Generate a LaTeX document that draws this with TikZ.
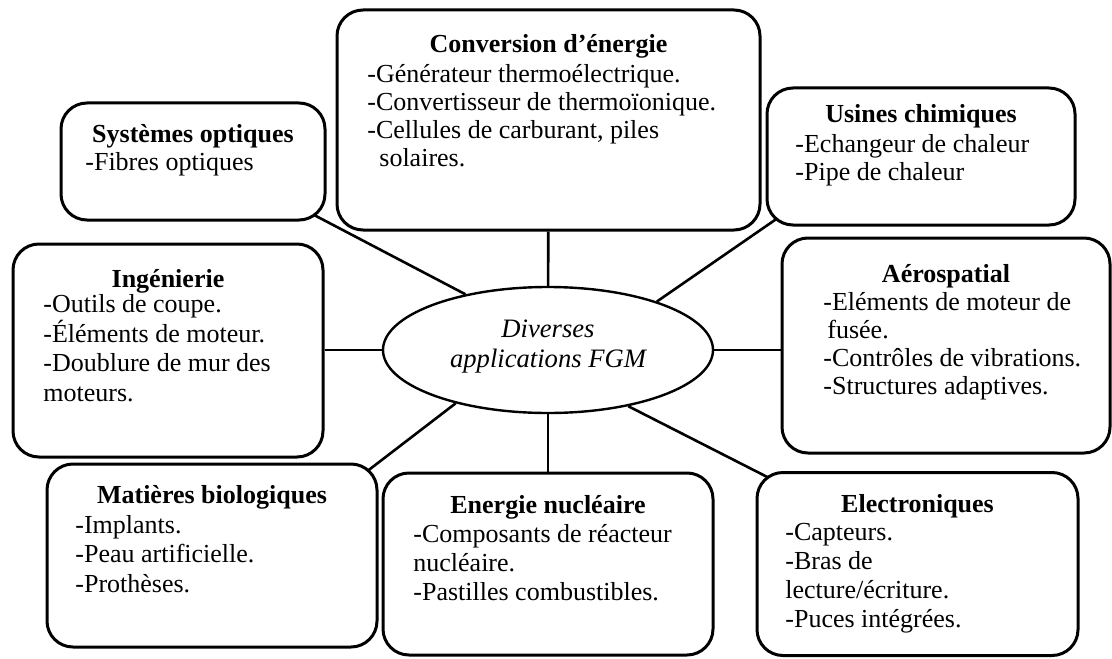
\documentclass[tikz,border=0pt]{standalone}
\usepackage{fontspec}
\setmainfont{Liberation Serif}
\usetikzlibrary{shapes.geometric,backgrounds}

\tikzset{
  appbox/.style={draw, fill=white, line width=1.5pt, rounded corners=13pt, inner sep=0pt},
  apptitle/.style={anchor=base, inner sep=0pt, font=\fontsize{13pt}{14pt}\selectfont\bfseries},
  applist/.style={anchor=base west, inner sep=0pt, align=left, font=\fontsize{13pt}{14pt}\selectfont},
  link/.style={line width=1.3pt},
  cornerlink/.style={link, shorten >=-8pt}
}

\begin{document}
\begin{tikzpicture}[x=0.5pt, y=-0.5pt]
	\useasboundingbox (0,0) rectangle (1112,658);
	
	% Centre (base = last line)
	\node[ellipse, draw, fill=white, line width=1.2pt, minimum width=165pt, minimum height=63pt, inner sep=0pt] (center) at (548,350) {};
	\node[anchor=base, inner sep=0pt, align=center, font=\fontsize{13.3pt}{15pt}\selectfont\itshape] (centertext) at (548,367) {Diverses\\applications FGM};
	
	% Conversion d'energie
	\node[appbox, minimum width=211.5pt, minimum height=110pt] (conv) at (548.5,120) {};
	\node[apptitle] (convtitle) at (548.5,53) {Conversion d’énergie};
	\node[applist] (convlist) at (367,166) {-Générateur thermoélectrique.\\-Convertisseur de thermoïonique.\\-Cellules de carburant, piles\\\hspace*{6pt}solaires.};
	
	% Systemes optiques
	\node[appbox, minimum width=132pt, minimum height=58.5pt] (optics) at (193,161.5) {};
	\node[apptitle] (opticstitle) at (193,142) {Systèmes optiques};
	\node[applist] (opticslist) at (85,170) {-Fibres optiques};
	
	% Usines chimiques
	\node[appbox, minimum width=154pt, minimum height=68.5pt] (plant) at (921,156.5) {};
	\node[apptitle] (planttitle) at (921,122) {Usines chimiques};
	\node[applist] (plantlist) at (795,180) {-Echangeur de chaleur\\-Pipe de chaleur};
	
	% Ingenierie
	\node[appbox, minimum width=155pt, minimum height=106.5pt] (eng) at (168,350.5) {};
	\node[apptitle] (engtitle) at (168,287) {Ingénierie};
	\node[applist, font=\fontsize{13pt}{14.7pt}\selectfont] (englist) at (43,401) {-Outils de coupe.\\-Éléments de moteur.\\-Doublure de mur des\\moteurs.};
	
	% Aerospatial
	\node[appbox, minimum width=164pt, minimum height=107.5pt] (aero) at (946,345.5) {};
	\node[apptitle] (aerotitle) at (946,282) {Aérospatial};
	\node[applist] (aerolist) at (823,394) {-Eléments de moteur de\\\hspace*{2pt}fusée.\\-Contrôles de vibrations.\\-Structures adaptives.};
	
	% Matieres biologiques
	\node[appbox, minimum width=165pt, minimum height=91.5pt] (bio) at (212,555.5) {};
	\node[apptitle] (biotitle) at (212,503) {Matières biologiques};
	\node[applist, font=\fontsize{13pt}{14.7pt}\selectfont] (biolist) at (75,592) {-Implants.\\-Peau artificielle.\\-Prothèses.};
	
	% Energie nucleaire
	\node[appbox, minimum width=165pt, minimum height=91pt] (nucl) at (548,564) {};
	\node[apptitle] (nucltitle) at (548,513) {Energie nucléaire};
	\node[applist, font=\fontsize{13pt}{14.5pt}\selectfont] (nucllist) at (413,600) {-Composants de réacteur\\nucléaire.\\-Pastilles combustibles.};
	
	% Electroniques
	\node[appbox, minimum width=160.5pt, minimum height=91.5pt] (elec) at (917.5,564) {};
	\node[apptitle] (electitle) at (917.5,512) {Electroniques};
	\node[applist, font=\fontsize{13pt}{14.5pt}\selectfont] (eleclist) at (785,627) {-Capteurs.\\-Bras de\\lecture/écriture.\\-Puces intégrées.};
	
	% Links
	\begin{scope}[on background layer]
		\draw[link] (center) -- (conv);
		\draw[cornerlink] (center.146) -- (optics.south east);
		\draw[cornerlink] (center.24) -- (plant.south west);
		\draw[link] (center.west) -- (eng.east |- center.west);
		\draw[link] (center.east) -- (aero.west |- center.east);
		\draw[cornerlink] (center.210) -- (bio.north east);
		\draw[link] (center) -- (nucl);
		\draw[cornerlink] (center.325) -- (elec.north west);
	\end{scope}
	
\end{tikzpicture}
\end{document}
